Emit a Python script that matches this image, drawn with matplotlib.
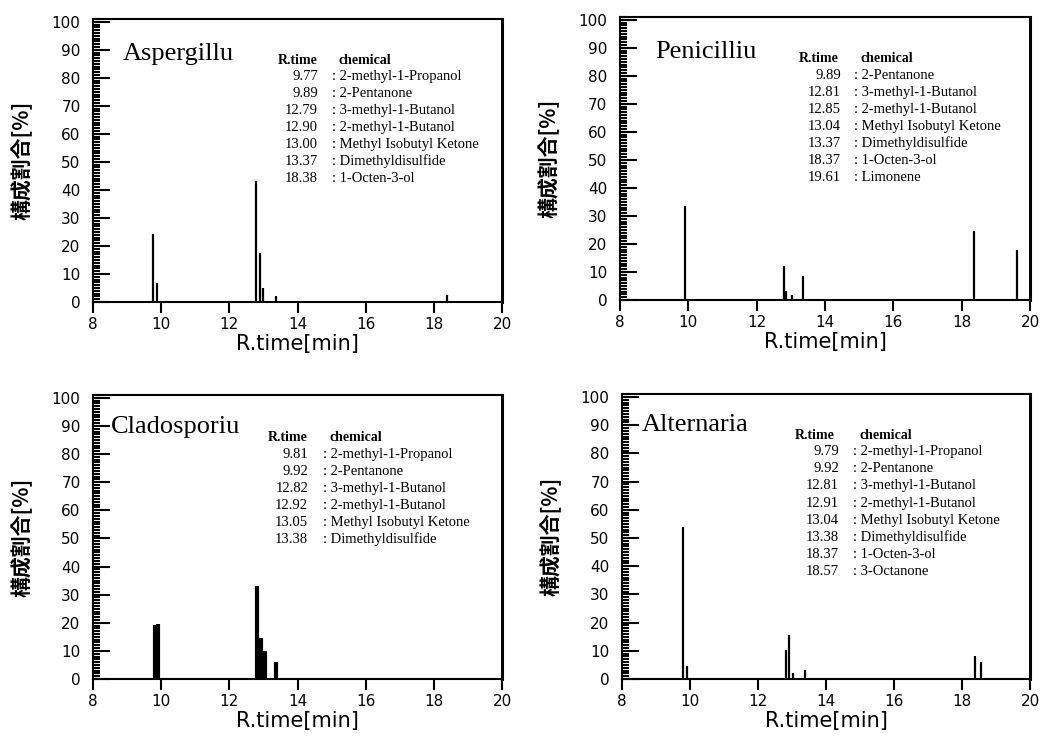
import matplotlib
matplotlib.use("Agg")
import matplotlib.pyplot as plt
from matplotlib.ticker import MultipleLocator

# --- データ (ピーク保持時間 / 構成割合) ---
asp_rt = [9.77, 9.89, 12.79, 12.90, 13.00, 13.37, 18.38]
asp_pct = [24.1, 6.9, 43.2, 17.4, 4.9, 2.1, 2.6]
asp_chem = ["2-methyl-1-Propanol", "2-Pentanone", "3-methyl-1-Butanol",
            "2-methyl-1-Butanol", "Methyl Isobutyl Ketone", "Dimethyldisulfide",
            "1-Octen-3-ol"]

pen_rt = [9.89, 12.81, 12.85, 13.04, 13.37, 18.37, 19.61]
pen_pct = [33.4, 12.1, 3.2, 1.9, 8.4, 24.5, 18.0]
pen_chem = ["2-Pentanone", "3-methyl-1-Butanol", "2-methyl-1-Butanol",
            "Methyl Isobutyl Ketone", "Dimethyldisulfide", "1-Octen-3-ol",
            "Limonene"]

clad_rt = [9.81, 9.92, 12.82, 12.92, 13.05, 13.38]
clad_pct = [19.3, 19.6, 33.1, 14.5, 9.8, 6.0]
clad_chem = ["2-methyl-1-Propanol", "2-Pentanone", "3-methyl-1-Butanol",
             "2-methyl-1-Butanol", "Methyl Isobutyl Ketone", "Dimethyldisulfide"]

alt_rt = [9.79, 9.92, 12.81, 12.91, 13.04, 13.38, 18.37, 18.57]
alt_pct = [54.0, 4.5, 10.4, 15.7, 2.1, 3.3, 8.3, 6.0]
alt_chem = ["2-methyl-1-Propanol", "2-Pentanone", "3-methyl-1-Butanol",
            "2-methyl-1-Butanol", "Methyl Isobutyl Ketone", "Dimethyldisulfide",
            "1-Octen-3-ol", "3-Octanone"]

x_ticks = [8, 10, 12, 14, 16, 18, 20]
y_ticks = list(range(0, 101, 10))

serif = "Liberation Serif"
sans = "DejaVu Sans"

fig = plt.figure(figsize=(10.42, 7.36), dpi=100)

# パネル: (名前, rt, pct, chem, 位置, 線幅, 名前の位置, 表の位置)
panels = [
    ("Aspergillu", asp_rt, asp_pct, asp_chem, [0.0893, 0.5897, 0.3925, 0.3845], 1.6,
     (0.073, 0.876), (0.452, 0.855, 0.550, 0.584)),
    ("Penicilliu", pen_rt, pen_pct, pen_chem, [0.595, 0.5924, 0.3935, 0.3845], 1.6,
     (0.085, 0.876), (0.437, 0.852, 0.539, 0.571)),
    ("Cladosporiu", clad_rt, clad_pct, clad_chem, [0.0893, 0.0774, 0.3925, 0.386], 3.0,
     (0.044, 0.887), (0.428, 0.850, 0.526, 0.562)),
    ("Alternaria", alt_rt, alt_pct, alt_chem, [0.597, 0.0774, 0.3915, 0.387], 1.6,
     (0.049, 0.891), (0.424, 0.856, 0.532, 0.566)),
]

for name, rt, pct, chem, pos, lw, tpos, tab in panels:
    ax = fig.add_axes(pos)
    ax.vlines(rt, 0, pct, colors="black", linewidth=lw)
    ax.set_xlim(8, 20)
    ax.set_ylim(0, 101)
    ax.set_xticks(x_ticks)
    ax.set_yticks(y_ticks)
    ax.yaxis.set_minor_locator(MultipleLocator(1))
    ax.tick_params(axis="y", which="major", direction="in", length=12, width=1.5,
                   labelsize=11, pad=9)
    ax.tick_params(axis="y", which="minor", direction="in", length=5, width=1.5)
    ax.tick_params(axis="x", which="major", direction="out", length=8, width=1.5,
                   labelsize=11, pad=3)
    for lab in ax.get_xticklabels() + ax.get_yticklabels():
        lab.set_family(sans)
    for side in ["left", "bottom", "top"]:
        ax.spines[side].set_linewidth(1.5)
    ax.spines["right"].set_linewidth(2.2)

    ax.set_xlabel("R.time[min]", fontsize=15, family=sans, labelpad=1)
    ax.set_ylabel("構成割合[%]", fontsize=15, fontweight="bold",
                  family=["Noto Sans CJK JP", "DejaVu Sans"], labelpad=14)

    ax.text(tpos[0], tpos[1], name, transform=ax.transAxes, family=serif,
            fontsize=19, va="center", ha="left")

    hx, hy, numx, colx = tab
    ax.text(hx, hy, "R.time", transform=ax.transAxes, family=serif, fontsize=10,
            fontweight="bold", va="center", ha="left")
    ax.text(colx + 0.015, hy, "chemical", transform=ax.transAxes, family=serif,
            fontsize=10, fontweight="bold", va="center", ha="left")
    for i, (r, c) in enumerate(zip(rt, chem)):
        yy = hy - 0.058 - i * 0.06
        ax.text(numx, yy, f"{r:.2f}", transform=ax.transAxes, family=serif,
                fontsize=10.5, va="center", ha="right")
        ax.text(colx, yy, ": " + c, transform=ax.transAxes, family=serif,
                fontsize=10.5, va="center", ha="left")

fig.savefig("out.png", dpi=100)
